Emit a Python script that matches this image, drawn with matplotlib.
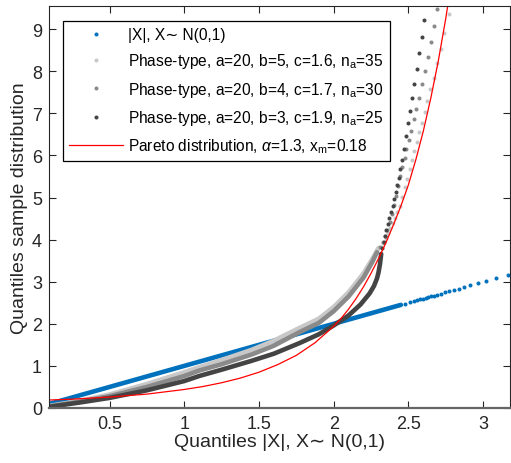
import matplotlib.pyplot as plt

plt.rcParams['font.family'] = ['Liberation Sans', 'DejaVu Sans']
plt.rcParams['mathtext.fontset'] = 'custom'
plt.rcParams['mathtext.rm'] = 'Liberation Sans'
plt.rcParams['mathtext.it'] = 'Liberation Sans:italic'

# |X|, X ~ N(0,1) -- dense part drawn as a band, tail as dots
blue_x = [0.10, 0.50, 1.00, 1.50, 2.00, 2.30, 2.45]
blue_y = [0.10, 0.50, 1.00, 1.50, 2.00, 2.30, 2.45]
blue_tail_x = [2.48, 2.51, 2.535, 2.56, 2.58, 2.60, 2.615, 2.633, 2.651, 2.671, 2.694,
               2.718, 2.745, 2.771, 2.803, 2.838, 2.874, 2.914, 2.963, 3.019, 3.084, 3.166]
blue_tail_y = [2.48, 2.51, 2.535, 2.56, 2.58, 2.60, 2.615, 2.633, 2.651, 2.671, 2.694,
               2.718, 2.745, 2.771, 2.803, 2.838, 2.874, 2.914, 2.963, 3.019, 3.084, 3.166]

# phase-type b=5 (light)
light_x = [0.10, 0.30, 0.50, 0.75, 1.00, 1.10, 1.25, 1.45, 1.60, 1.77, 1.90, 2.00, 2.10, 2.20, 2.26, 2.30]
light_y = [0.05, 0.17, 0.32, 0.57, 0.85, 0.97, 1.14, 1.38, 1.60, 1.90, 2.12, 2.40, 2.75, 3.20, 3.55, 3.80]
light_tail_x = [2.33, 2.35, 2.365, 2.38, 2.395, 2.41, 2.425, 2.441, 2.458, 2.475, 2.493, 2.508, 2.524,
                2.540, 2.555, 2.572, 2.590, 2.609, 2.627, 2.647, 2.669, 2.694, 2.716, 2.74, 2.77]
light_tail_y = [3.92, 4.04, 4.15, 4.27, 4.40, 4.52, 4.65, 4.80, 5.02, 5.24, 5.44, 5.68, 5.90,
                6.11, 6.33, 6.55, 6.78, 7.02, 7.30, 7.58, 7.85, 8.19, 8.54, 8.92, 9.35]

# phase-type b=4 (mid)
mid_x = [0.10, 0.30, 0.50, 0.75, 1.00, 1.10, 1.25, 1.45, 1.60, 1.77, 1.90, 2.00, 2.10, 2.20, 2.26, 2.29]
mid_y = [0.04, 0.15, 0.28, 0.50, 0.76, 0.89, 1.04, 1.27, 1.48, 1.80, 2.02, 2.30, 2.65, 3.10, 3.48, 3.70]
mid_tail_x = [2.31, 2.33, 2.345, 2.36, 2.375, 2.39, 2.405, 2.42, 2.433, 2.446, 2.46, 2.475, 2.486,
              2.503, 2.52, 2.537, 2.553, 2.573, 2.591, 2.609, 2.629, 2.649, 2.671, 2.694]
mid_tail_y = [3.82, 3.95, 4.08, 4.24, 4.42, 4.62, 4.82, 5.04, 5.28, 5.52, 5.72, 5.93, 6.15,
              6.37, 6.59, 6.86, 7.10, 7.37, 7.69, 8.00, 8.33, 8.69, 9.07, 9.48]

# phase-type b=3 (dark)
dark_x = [0.10, 0.30, 0.50, 0.75, 1.00, 1.10, 1.25, 1.45, 1.60, 1.77, 1.90, 2.00, 2.10, 2.18,
          2.24, 2.27, 2.29, 2.30, 2.31, 2.318]
dark_y = [0.03, 0.13, 0.24, 0.42, 0.64, 0.76, 0.91, 1.12, 1.29, 1.54, 1.75, 1.96, 2.20, 2.46,
          2.72, 2.90, 3.08, 3.22, 3.42, 3.66]
dark_tail_x = [2.325, 2.334, 2.343, 2.352, 2.362, 2.373, 2.384, 2.395, 2.405, 2.415, 2.425, 2.435,
               2.444, 2.455, 2.468, 2.482, 2.495, 2.510, 2.524, 2.540, 2.557, 2.573, 2.591, 2.607]
dark_tail_y = [3.80, 3.94, 4.08, 4.22, 4.36, 4.51, 4.66, 4.81, 4.97, 5.13, 5.29, 5.46,
               5.68, 5.90, 6.15, 6.45, 6.76, 7.05, 7.36, 7.70, 8.05, 8.43, 8.82, 9.22]

# Pareto
red_x = [0.10, 0.25, 0.50, 0.75, 1.00, 1.125, 1.25, 1.375, 1.50, 1.625, 1.75, 1.875, 2.00, 2.05, 2.10,
         2.15, 2.20, 2.25, 2.30, 2.35, 2.40, 2.45, 2.50, 2.55, 2.60, 2.65, 2.70, 2.75, 2.80]
red_y = [0.19, 0.21, 0.26, 0.33, 0.44, 0.51, 0.60, 0.71, 0.85, 1.03, 1.25, 1.55, 1.94, 2.13, 2.35,
         2.60, 2.88, 3.20, 3.55, 3.93, 4.35, 4.80, 5.30, 5.90, 6.58, 7.36, 8.24, 9.25, 10.4]

blue = '#0072BD'
c_light = '#c8c8c8'
c_mid = '#8a8a8a'
c_dark = '#444444'

fig = plt.figure(figsize=(5.11, 4.64), dpi=100)
ax = fig.add_axes([49/511, 1 - 409/464, 461/511, 402/464])

lw = 3.3
ms = 2.9
ax.plot(blue_x, blue_y, color=blue, lw=lw, solid_capstyle='round')
ax.plot(blue_tail_x, blue_tail_y, 'o', color=blue, ms=ms, mew=0)
ax.plot(light_x, light_y, color=c_light, lw=lw, solid_capstyle='round')
ax.plot(light_tail_x, light_tail_y, 'o', color=c_light, ms=ms, mew=0)
ax.plot(mid_x, mid_y, color=c_mid, lw=lw, solid_capstyle='round')
ax.plot(mid_tail_x, mid_tail_y, 'o', color=c_mid, ms=ms, mew=0)
ax.plot(dark_x, dark_y, color=c_dark, lw=lw, solid_capstyle='round', solid_joinstyle='round')
ax.plot(dark_tail_x, dark_tail_y, 'o', color=c_dark, ms=ms, mew=0)
ax.plot(red_x, red_y, color='red', lw=0.9)

# legend proxies
h1, = ax.plot([], [], 'o', color=blue, ms=ms, mew=0)
h2, = ax.plot([], [], 'o', color=c_light, ms=ms, mew=0)
h3, = ax.plot([], [], 'o', color=c_mid, ms=ms, mew=0)
h4, = ax.plot([], [], 'o', color=c_dark, ms=ms, mew=0)
h5, = ax.plot([], [], color='red', lw=0.9)
labels = ['|X|, X\u223c N(0,1)',
          r'Phase-type, a=20, b=5, c=1.6, n$_\mathrm{a}$=35',
          r'Phase-type, a=20, b=4, c=1.7, n$_\mathrm{a}$=30',
          r'Phase-type, a=20, b=3, c=1.9, n$_\mathrm{a}$=25',
          r'Pareto distribution, $\alpha$=1.3, x$_\mathrm{m}$=0.18']
leg = ax.legend([h1, h2, h3, h4, h5], labels, loc='upper left', bbox_to_anchor=(0.03, 0.963),
                fontsize=11.2, frameon=True, fancybox=False, edgecolor='black', framealpha=1,
                handlelength=3.5, handletextpad=0.3, borderaxespad=0, labelspacing=0.6,
                borderpad=0.4)
leg.get_frame().set_linewidth(0.9)

ax.set_xlim(0.095, 3.18)
ax.set_ylim(0, 9.55)
ax.set_xticks([0.5, 1, 1.5, 2, 2.5, 3])
ax.set_xticklabels(['0.5', '1', '1.5', '2', '2.5', '3'])
ax.set_yticks(range(10))
ax.tick_params(direction='in', length=5, width=0.8, top=True, right=True, labelsize=13,
               colors='#262626', pad=5)
for s in ax.spines.values():
    s.set_color('#262626')
    s.set_linewidth(0.8)
ax.spines['bottom'].set_color('#666666')
ax.spines['bottom'].set_linewidth(1.6)

ax.set_xlabel('Quantiles |X|, X\u223c N(0,1)', fontsize=14, color='#262626', labelpad=1)
ax.set_ylabel('Quantiles sample distribution', fontsize=14, color='#262626', labelpad=3)

fig.savefig('out.png', dpi=100)
